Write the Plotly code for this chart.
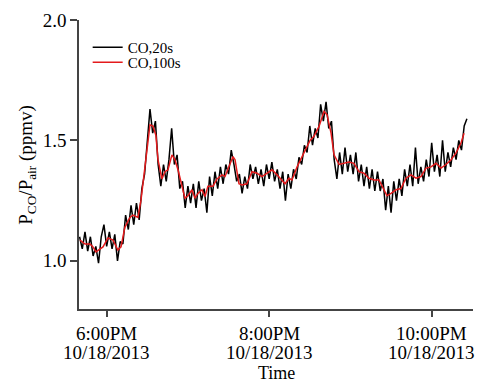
import pandas as pd
import plotly.graph_objects as go

# CO, 20 s data: one value every 2 minutes starting 17:40 on 10/18/2013
black_start = "2013-10-18 17:40"
co_20s = [
    1.10, 1.05, 1.12, 1.04, 1.10, 1.02, 1.06, 0.99, 1.10, 1.15,
    1.06, 1.12, 1.05, 1.11, 1.00, 1.08, 1.07, 1.19, 1.13, 1.23,
    1.15, 1.24, 1.17, 1.30, 1.36, 1.51, 1.63, 1.53, 1.58, 1.40,
    1.31, 1.40, 1.33, 1.42, 1.55, 1.40, 1.44, 1.30, 1.33, 1.22,
    1.31, 1.24, 1.32, 1.22, 1.33, 1.25, 1.30, 1.20, 1.35, 1.27,
    1.37, 1.30, 1.39, 1.32, 1.40, 1.36, 1.46, 1.40, 1.33, 1.36,
    1.28, 1.35, 1.30, 1.40, 1.34, 1.39, 1.32, 1.38, 1.31, 1.40,
    1.34, 1.41, 1.33, 1.38, 1.30, 1.37, 1.25, 1.36, 1.30, 1.38,
    1.34, 1.43, 1.40, 1.48, 1.45, 1.56, 1.48, 1.55, 1.51, 1.65,
    1.58, 1.66, 1.55, 1.58, 1.42, 1.34, 1.45, 1.36, 1.47, 1.37,
    1.44, 1.36, 1.45, 1.33, 1.40, 1.31, 1.39, 1.30, 1.38, 1.29,
    1.37, 1.29, 1.34, 1.21, 1.31, 1.20, 1.33, 1.25, 1.34, 1.27,
    1.38, 1.31, 1.40, 1.31, 1.47, 1.32, 1.39, 1.33, 1.42, 1.35,
    1.49, 1.37, 1.44, 1.35, 1.50, 1.37, 1.45, 1.39, 1.47, 1.42,
    1.50, 1.46, 1.56, 1.59,
]

# CO, 100 s data: minutes after 6:00 PM and values
co_100s_min = [
    -19.7, -16.0, -12.3, -10.1, -7.9, -2.7, 1.0, 4.7, 8.3, 10.6,
    13.5, 17.2, 19.4, 23.1, 25.3, 28.3, 30.5, 32.0, 34.2, 36.4,
    37.9, 40.8, 43.0, 45.3, 48.2, 50.4, 52.7, 55.6, 57.8, 60.0,
    63.0, 65.2, 67.4, 70.4, 72.6, 74.8, 78.5, 81.5, 85.2, 87.4,
    91.1, 93.3, 94.8, 97.7, 99.9, 103.6, 107.3, 111.0, 114.7, 118.4,
    122.1, 125.8, 129.5, 131.7, 134.6, 136.8, 140.6, 144.3, 148.0, 150.2,
    153.1, 156.8, 160.5, 162.7, 165.7, 167.9, 171.6, 175.3, 178.9, 182.6,
    186.3, 190.0, 193.7, 197.4, 201.1, 204.8, 207.0, 210.0, 213.7, 217.3,
    221.0, 224.7, 228.4, 232.1, 235.8, 239.5, 243.2, 246.9, 250.6, 254.3,
    258.0, 261.7, 263.9,
]
co_100s = [
    1.086, 1.07, 1.07, 1.058, 1.037, 1.058, 1.095, 1.086, 1.045, 1.058,
    1.14, 1.18, 1.19, 1.18, 1.25, 1.39, 1.50, 1.565, 1.56, 1.52,
    1.42, 1.34, 1.37, 1.378, 1.44, 1.42, 1.378, 1.31, 1.26, 1.27,
    1.295, 1.26, 1.28, 1.295, 1.267, 1.31, 1.31, 1.34, 1.357, 1.35,
    1.405, 1.433, 1.42, 1.32, 1.315, 1.32, 1.37, 1.364, 1.35, 1.364,
    1.378, 1.357, 1.336, 1.32, 1.343, 1.336, 1.39, 1.433, 1.475, 1.50,
    1.517, 1.558, 1.62, 1.607, 1.53, 1.44, 1.40, 1.405, 1.41, 1.405,
    1.37, 1.364, 1.343, 1.336, 1.336, 1.295, 1.27, 1.28, 1.295, 1.30,
    1.343, 1.357, 1.343, 1.35, 1.385, 1.39, 1.405, 1.385, 1.40, 1.42,
    1.448, 1.49, 1.53,
]

tick_times = ["2013-10-18 18:00", "2013-10-18 20:00", "2013-10-18 22:00"]
tick_hours = ["6:00PM", "8:00PM", "10:00PM"]
tick_dates = ["10/18/2013", "10/18/2013", "10/18/2013"]
y_ticks = [1.0, 1.5, 2.0]

t_black = pd.date_range(start=black_start, periods=len(co_20s), freq="2min")
base = pd.Timestamp("2013-10-18 18:00")
t_red = [base + pd.Timedelta(minutes=m) for m in co_100s_min]

FONT = "Liberation Serif"
AX = "#444"

fig = go.Figure()
fig.add_trace(go.Scatter(x=t_black, y=co_20s, mode="lines", name="CO,20s",
                         line=dict(color="black", width=1.5), legend="legend"))
fig.add_trace(go.Scatter(x=t_red, y=co_100s, mode="lines", name="CO,100s",
                         line=dict(color="#e41a1c", width=1.5), legend="legend2"))

annotations = []
for tt, h, d in zip(tick_times, tick_hours, tick_dates):
    annotations.append(dict(text=h, x=tt, xref="x", y=-0.0865, yref="paper",
                            xanchor="center", yanchor="middle", showarrow=False,
                            font=dict(family=FONT, size=19, color="black")))
    annotations.append(dict(text=d, x=tt, xref="x", y=-0.152, yref="paper",
                            xanchor="center", yanchor="middle", showarrow=False,
                            font=dict(family=FONT, size=19, color="black")))
annotations.append(dict(text="P<sub>CO</sub>/P<sub>air</sub> (ppmv)", textangle=-90,
                        xref="paper", yref="paper", x=-0.134, y=0.5,
                        xanchor="center", yanchor="middle", showarrow=False,
                        font=dict(family=FONT, size=19, color="black")))
annotations.append(dict(text="Time", xref="paper", yref="paper", x=0.5, y=-0.22,
                        xanchor="center", yanchor="middle", showarrow=False,
                        font=dict(family=FONT, size=18, color="black")))

legend_style = dict(xanchor="left", yanchor="top",
                    font=dict(family=FONT, size=15, color="black"),
                    bgcolor="rgba(0,0,0,0)")

fig.update_layout(
    width=475, height=374,
    margin=dict(l=71, r=10, t=12, b=73),
    paper_bgcolor="white", plot_bgcolor="white",
    font=dict(family=FONT, color="black", size=18),
    showlegend=True,
    legend=dict(x=0.022, y=0.962, **legend_style),
    legend2=dict(x=0.022, y=0.91, **legend_style),
    xaxis=dict(
        range=[pd.Timestamp("2013-10-18 17:39:35"), pd.Timestamp("2013-10-18 22:30:30")],
        tickmode="array", tickvals=tick_times, showticklabels=False,
        showgrid=False, zeroline=False, showline=True, linecolor=AX, linewidth=1.5,
        ticks="outside", ticklen=6, tickcolor=AX, tickwidth=1.5, automargin=False,
    ),
    yaxis=dict(
        range=[0.8, 2.0],
        tickmode="array", tickvals=y_ticks, tickformat=".1f",
        showgrid=False, zeroline=False, showline=True, linecolor=AX, linewidth=1.5,
        ticks="outside", ticklen=7, tickcolor=AX, tickwidth=1.5, automargin=False,
        tickfont=dict(family=FONT, size=19, color="black"),
    ),
    annotations=annotations,
)

fig.write_html("out.html")
